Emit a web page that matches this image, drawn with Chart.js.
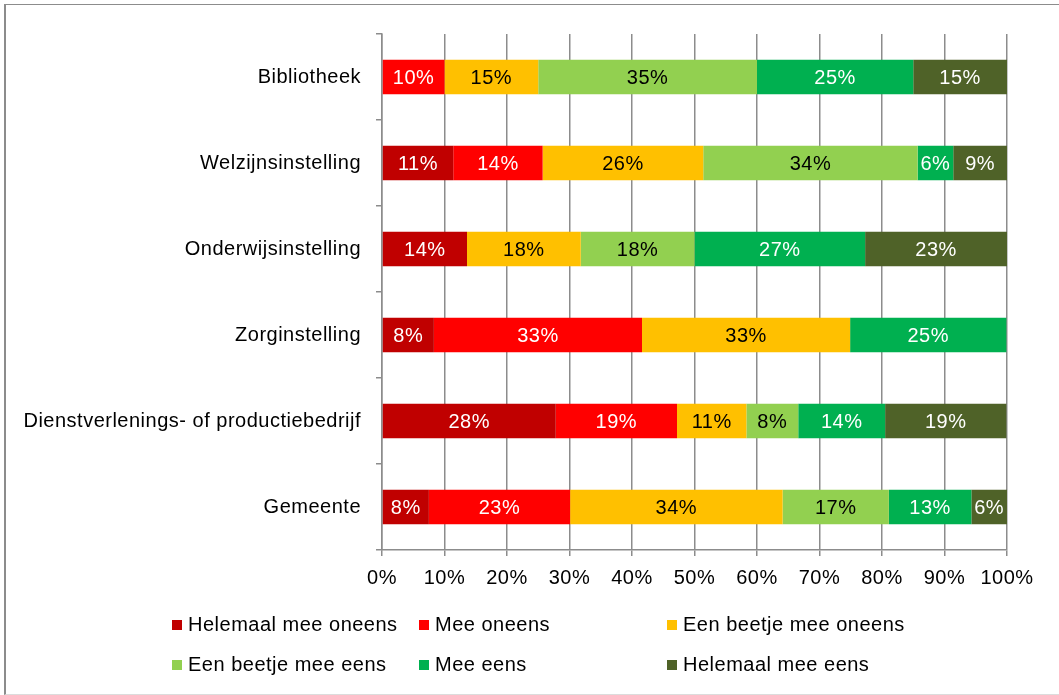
<!DOCTYPE html>
<html>
<head>
<meta charset="utf-8">
<script src="https://cdn.jsdelivr.net/npm/chart.js@4"></script>
<style>
  html, body { margin: 0; padding: 0; background: #fff; }
  body { width: 1059px; height: 695px; position: relative; overflow: hidden; font-family: 'Liberation Sans', Arial, sans-serif; }
  #frame { position: absolute; left: 4px; top: 4px; width: 1100px; height: 689px; border-left: 2px solid #8c8c8c; border-top: 1px solid #8c8c8c; border-bottom: 1px solid #dcdcdc; }
  #wrap { position: absolute; left: 0; top: 0; width: 1059px; height: 695px; }
  #legend { position: absolute; left: 0; top: 0; width: 1059px; height: 695px; pointer-events: none; }
  .item { position: absolute; font-size: 20px; letter-spacing: 0.5px; color: #000; white-space: nowrap; line-height: 22px; }
  .item span.box { display: inline-block; width: 10px; height: 10px; margin-right: 6px; vertical-align: 1px; }
</style>
</head>
<body>
<div id="frame"></div>
<div id="wrap"><canvas id="chart" width="1059" height="695"></canvas></div>
<div id="legend"></div>
<script>
const categories = ["Bibliotheek", "Welzijnsinstelling", "Onderwijsinstelling", "Zorginstelling", "Dienstverlenings- of productiebedrijf", "Gemeente"];
const seriesNames = ["Helemaal mee oneens", "Mee oneens", "Een beetje mee oneens", "Een beetje mee eens", "Mee eens", "Helemaal mee eens"];

const helemaalOneens = [0, 11.4, 13.6, 8.3, 27.8, 7.5];
const meeOneens      = [10, 14.3, 0, 33.3, 19.4, 22.6];
const beetjeOneens   = [15, 25.7, 18.2, 33.3, 11.1, 34.0];
const beetjeEens     = [35, 34.3, 18.2, 0, 8.3, 17.0];
const meeEens        = [25, 5.7, 27.3, 25.0, 13.9, 13.2];
const helemaalEens   = [15, 8.6, 22.7, 0, 19.4, 5.7];

const xTicks = [0, 10, 20, 30, 40, 50, 60, 70, 80, 90, 100];

const colors = ["#C00000", "#FF0000", "#FFC000", "#92D050", "#00B050", "#4F6228"];
const labelColors = ["#fff", "#fff", "#000", "#000", "#fff", "#fff"];

const allSeries = [helemaalOneens, meeOneens, beetjeOneens, beetjeEens, meeEens, helemaalEens];

Chart.defaults.font.family = "'Liberation Sans', Arial, sans-serif";
Chart.defaults.font.size = 20;
Chart.defaults.color = "#000";

// the original text runs a bit wider than plain Arial
const spacing = {
  id: "spacing",
  beforeLayout(chart) { chart.ctx.letterSpacing = "0.5px"; },
  beforeDraw(chart) { chart.ctx.letterSpacing = "0.5px"; }
};

// value labels in the middle of every segment
const segmentLabels = {
  id: "segmentLabels",
  afterDatasetsDraw(chart) {
    const ctx = chart.ctx;
    ctx.save();
    ctx.font = "20px 'Liberation Sans', Arial, sans-serif";
    ctx.textAlign = "center";
    ctx.textBaseline = "middle";
    chart.data.datasets.forEach((ds, i) => {
      const meta = chart.getDatasetMeta(i);
      meta.data.forEach((bar, j) => {
        const v = ds.data[j];
        if (!v) return;
        ctx.fillStyle = labelColors[i];
        ctx.fillText(Math.round(v) + "%", (bar.x + bar.base) / 2, bar.y + 1);
      });
    });
    ctx.restore();
  }
};

const chart = new Chart(document.getElementById("chart"), {
  type: "bar",
  data: {
    labels: categories,
    datasets: allSeries.map((d, i) => ({
      label: seriesNames[i],
      data: d,
      backgroundColor: colors[i],
      borderWidth: 0,
      categoryPercentage: 1,
      barPercentage: 0.4
    }))
  },
  options: {
    indexAxis: "y",
    responsive: false,
    animation: false,
    layout: { padding: { left: 0, right: 52, top: 34, bottom: 95 } },
    plugins: {
      legend: { display: false },
      tooltip: { enabled: false }
    },
    scales: {
      x: {
        stacked: true,
        min: 0,
        max: 100,
        afterBuildTicks: (scale) => { scale.ticks = xTicks.map(v => ({ value: v })); },
        ticks: { callback: (v) => v + "%", padding: 10, maxRotation: 0 },
        grid: { color: "#8c8c8c", lineWidth: 1.5, tickLength: 6 },
        border: { color: "#8c8c8c", width: 1.5 },
        afterFit: (scale) => { scale.height = 50; }
      },
      y: {
        stacked: true,
        ticks: { padding: 15 },
        grid: { drawOnChartArea: false, color: "#8c8c8c", lineWidth: 1.5, tickLength: 6 },
        border: { color: "#8c8c8c", width: 1.5 },
        afterFit: (scale) => { scale.width = 382; }
      }
    }
  },
  plugins: [spacing, segmentLabels]
});

// legend laid out in columns like the original
const legendCols = [172, 419, 667];
const legendRows = [613, 653];
const legend = document.getElementById("legend");
chart.data.datasets.forEach((ds, i) => {
  const el = document.createElement("div");
  el.className = "item";
  el.style.left = legendCols[i % 3] + "px";
  el.style.top = legendRows[Math.floor(i / 3)] + "px";
  el.innerHTML = `<span class="box" style="background:${ds.backgroundColor}"></span>${ds.label}`;
  legend.appendChild(el);
});
</script>
</body>
</html>
